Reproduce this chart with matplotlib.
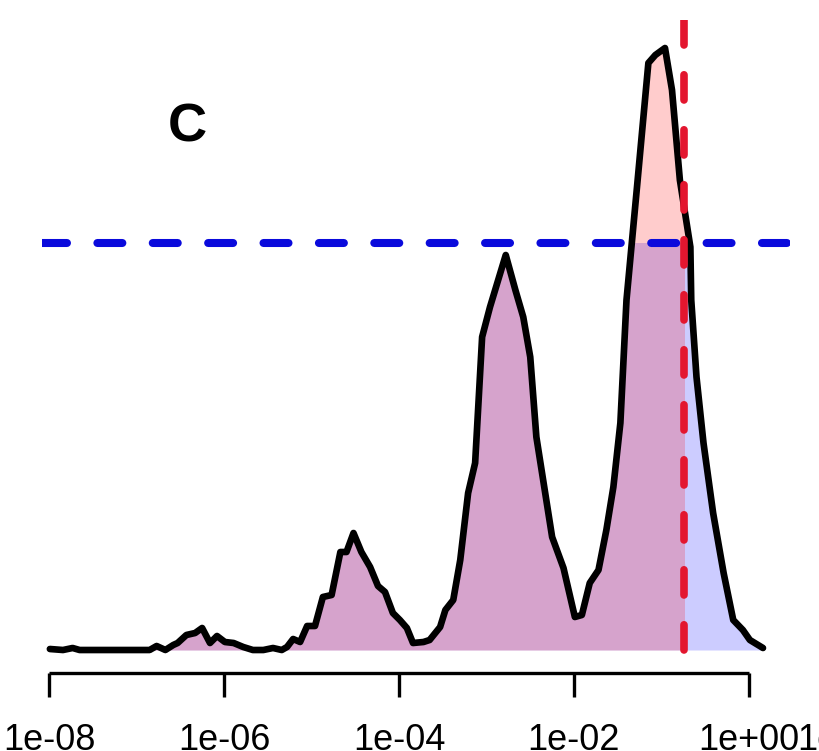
import numpy as np
import matplotlib
matplotlib.use("Agg")
import matplotlib.pyplot as plt
from matplotlib.patches import Rectangle
from matplotlib.ticker import FixedLocator, FixedFormatter

plt.rcParams["font.family"] = ["Liberation Sans", "DejaVu Sans"]

# density estimate over log10(x)
log10_x = [-7.99, -7.84, -7.73, -7.65, -6.85, -6.77, -6.67, -6.58, -6.53, -6.43,
           -6.33, -6.25, -6.16, -6.08, -5.99, -5.89, -5.78, -5.67, -5.55, -5.44,
           -5.34, -5.28, -5.21, -5.13, -5.05, -4.96, -4.87, -4.77, -4.67, -4.60,
           -4.52, -4.43, -4.33, -4.24, -4.16, -4.07, -3.99, -3.91, -3.84, -3.72,
           -3.65, -3.53, -3.47, -3.38, -3.30, -3.21, -3.13, -3.05, -2.96, -2.78,
           -2.67, -2.58, -2.50, -2.43, -2.25, -2.12, -1.99, -1.91, -1.82, -1.72,
           -1.63, -1.55, -1.47, -1.40, -1.28, -1.15, -1.07, -0.96, -0.88, -0.79,
           -0.67, -0.66, -0.60, -0.52, -0.41, -0.29, -0.18, -0.07, 0.01, 0.16]
density = [0.001, 0.000, 0.002, 0.000, 0.000, 0.004, 0.000, 0.005, 0.007, 0.015,
           0.017, 0.022, 0.007, 0.014, 0.008, 0.007, 0.003, 0.000, 0.000, 0.002,
           0.000, 0.003, 0.011, 0.008, 0.024, 0.024, 0.053, 0.055, 0.098, 0.098,
           0.117, 0.098, 0.083, 0.064, 0.058, 0.037, 0.030, 0.022, 0.007, 0.008,
           0.010, 0.023, 0.040, 0.050, 0.090, 0.157, 0.187, 0.313, 0.343, 0.395,
           0.360, 0.333, 0.293, 0.213, 0.113, 0.082, 0.033, 0.035, 0.067, 0.080,
           0.120, 0.163, 0.227, 0.350, 0.463, 0.587, 0.595, 0.602, 0.560, 0.470,
           0.403, 0.350, 0.273, 0.207, 0.137, 0.077, 0.030, 0.020, 0.010, 0.002]

threshold_x = 0.181      # vertical cut-off
threshold_y = 0.407      # horizontal cut-off

tick_values = [1e-08, 1e-06, 1e-04, 1e-02, 1e+00]
tick_labels = ["1e-08", "1e-06", "1e-04", "1e-02", "1e+00"]
panel_label = "C"

x = 10.0 ** np.array(log10_x)
y = np.array(density)

fig = plt.figure(figsize=(8.19, 7.51), dpi=100)
W, H = 819, 751
ax = fig.add_axes([42 / W, 1 - 673 / H, 748 / W, (673 - 20) / H])
ax.set_xscale("log")
ax.set_xlim(10 ** -8.08, 10 ** 0.4686)
ax.set_ylim(-0.023, 0.630)

# blue fill: area under the curve below the horizontal threshold
blue = ax.fill_between(x, 0, y, color=(0, 0, 1, 0.2), linewidth=0)
blue_clip = Rectangle((x[0] / 10, 0), 1e3, threshold_y, transform=ax.transData)
blue.set_clip_path(blue_clip)

# red fill: area under the curve left of the vertical threshold
red = ax.fill_between(x, 0, y, color=(1, 0, 0, 0.2), linewidth=0)
red_clip = Rectangle((x[0] / 10, -1), threshold_x - x[0] / 10, 3, transform=ax.transData)
red.set_clip_path(red_clip)

ax.plot(x, y, color="black", lw=4.8, solid_joinstyle="round", solid_capstyle="round",
        zorder=3)

ax.axhline(threshold_y, color="#0a0adc", lw=5.8, dashes=(3.1, 3.775),
           dash_capstyle="round", zorder=4)
ax.plot([threshold_x, threshold_x], [0, 0.7], color="#e3162f", lw=5.5,
        dashes=(3.3, 3.9), dash_capstyle="round", zorder=5)

tick_len, tick_pad = 17.3, 18.7
for side in ("left", "right", "top"):
    ax.spines[side].set_visible(False)
ax.spines["bottom"].set_bounds(tick_values[0], tick_values[-1])
ax.spines["bottom"].set_linewidth(2.4)
ax.spines["bottom"].set_capstyle("butt")
ax.yaxis.set_visible(False)
ax.xaxis.set_major_locator(FixedLocator(tick_values))
ax.xaxis.set_major_formatter(FixedFormatter(tick_labels))
ax.xaxis.set_minor_locator(FixedLocator([]))
ax.tick_params(axis="x", length=tick_len, width=2.4, pad=tick_pad, labelsize=26,
               direction="out")

fig.text(187 / W, 1 - 128 / H, panel_label, fontsize=39,
         fontweight="bold", ha="center", va="center")
# first label of the neighbouring panel's axis, running off the right edge
ax.annotate(tick_labels[0], xy=(797 / W, 0), xycoords=("figure fraction", "axes fraction"),
            xytext=(0, -(tick_len + tick_pad)), textcoords="offset points",
            ha="left", va="top", fontsize=26, annotation_clip=False)

fig.savefig("out.png", dpi=100)
